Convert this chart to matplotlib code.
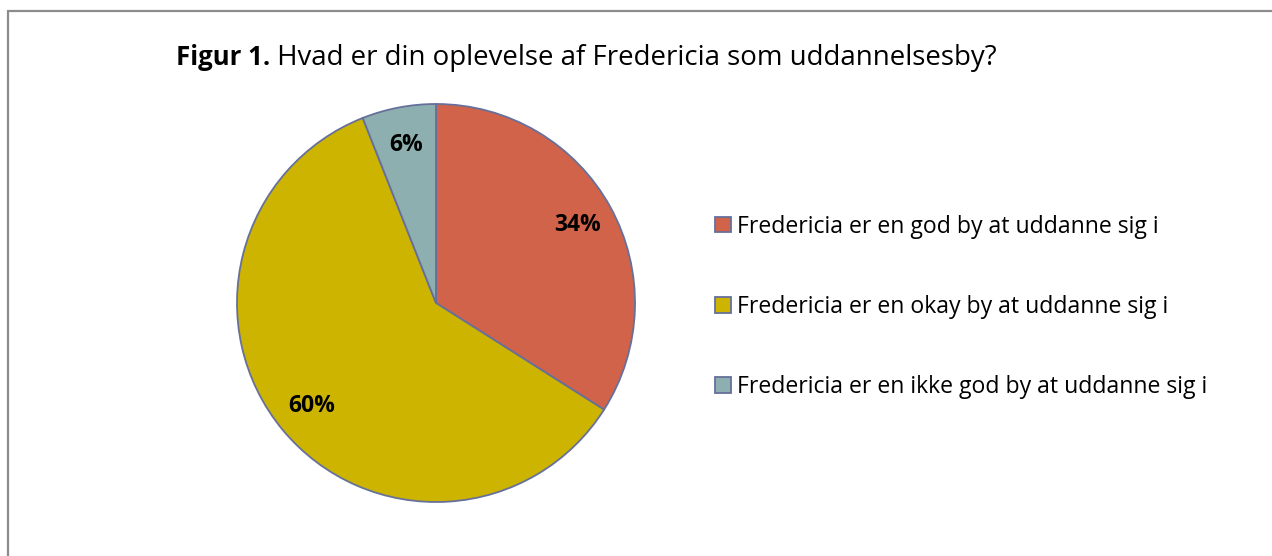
import matplotlib.pyplot as plt
from matplotlib.patches import Rectangle

plt.rcParams['font.family'] = ['Open Sans', 'DejaVu Sans']

labels = ['Fredericia er en god by at uddanne sig i',
          'Fredericia er en okay by at uddanne sig i',
          'Fredericia er en ikke god by at uddanne sig i']
shares = [34, 60, 6]
colors = ['#D1634A', '#CCB400', '#8EAFAF']
title_bold = 'Figur 1.'
title_rest = ' Hvad er din oplevelse af Fredericia som uddannelsesby?'

W, H = 1272, 556
fig = plt.figure(figsize=(W / 100, H / 100), dpi=100)

# grey frame, open at right and bottom like the cropped original
fig.patches.append(Rectangle((8 / W, -0.05), 1.1, (H - 11) / H + 0.05,
                             transform=fig.transFigure, fill=False,
                             edgecolor='#8C8C8C', linewidth=1.6))

ax = fig.add_axes([236 / W, (H - 503) / H, 400 / W, 400 / H])
wedges, _, autotexts = ax.pie(shares, colors=colors, startangle=90, counterclock=False,
                              autopct='%1.0f%%', pctdistance=0.81, radius=1,
                              wedgeprops=dict(edgecolor='#66709A', linewidth=1.3))
for t in autotexts:
    t.set_fontsize(16.5)
    t.set_fontweight('bold')
ax.set_xlim(-1.005, 1.005)
ax.set_ylim(-1.005, 1.005)
ax.set_aspect('equal')
ax.axis('off')

fig.legend(wedges, labels, loc='center left', bbox_to_anchor=(715 / W, (H - 307) / H),
           frameon=False, fontsize=16.6, handlelength=0.68, handleheight=0.68,
           handletextpad=0.27, labelspacing=2.45, borderpad=0, borderaxespad=0)

t1 = fig.text(176 / W, (H - 65) / H, title_bold, fontsize=18.5, fontweight='bold',
              ha='left', va='baseline')
fig.canvas.draw()
bb = t1.get_window_extent()
fig.text(bb.x1 / W, (H - 65) / H, title_rest, fontsize=19.9, ha='left', va='baseline')

fig.savefig('out.png', dpi=100)
